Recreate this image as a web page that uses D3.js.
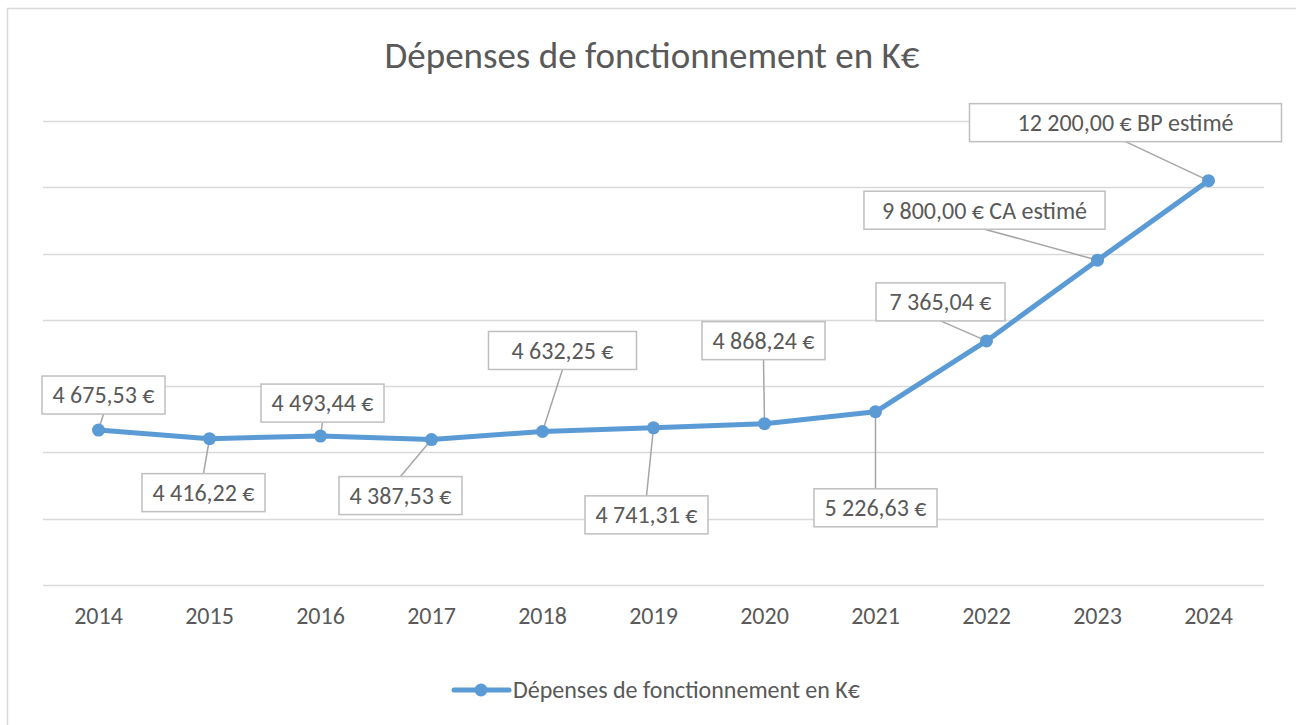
<!DOCTYPE html>
<html>
<head>
<meta charset="utf-8">
<script src="https://cdn.jsdelivr.net/npm/d3@7"></script>
<style>
  body { margin: 0; background: #fff; }
  text { font-family: Calibri, Carlito, "Open Sans", sans-serif; fill: #595959; }
</style>
</head>
<body>
<svg id="chart" width="1296" height="725"></svg>
<script>
// chart data
var years = ["2014","2015","2016","2017","2018","2019","2020","2021","2022","2023","2024"];
var values = [4675.53, 4416.22, 4493.44, 4387.53, 4632.25, 4741.31, 4868.24, 5226.63, 7365.04, 9800, 12200];
var labels = ["4 675,53 €","4 416,22 €","4 493,44 €","4 387,53 €","4 632,25 €","4 741,31 €",
              "4 868,24 €","5 226,63 €","7 365,04 €","9 800,00 € CA estimé","12 200,00 € BP estimé"];
var yTicks = [0, 2000, 4000, 6000, 8000, 10000, 12000, 14000];
var title = "Dépenses de fonctionnement en K€";

// where each label box sits, relative to its point, and its side padding (layout only)
var labelOffsets = [[5,-35],[-6,54],[2,-33],[-31,56],[20,-81],[-7,87],[-1,-83],[0,96],[-46,-39],[-113,-50],[-83,-58]];
var labelPad = [21, 21, 21, 21, 46, 21, 21, 21, 27, 36, 96];

var blue = "#5B9BD5";
var svg = d3.select("#chart");

// outer chart border
svg.append("rect").attr("x", 7.5).attr("y", 8.5).attr("width", 1300).attr("height", 730)
  .attr("fill", "#fff").attr("stroke", "#D9D9D9").attr("stroke-width", 1.5);

svg.append("text").attr("x", 652).attr("y", 68).attr("text-anchor", "middle")
  .style("font-size", "37px").text(title);

var x = d3.scaleBand().domain(years).range([43, 1264]);
var y = d3.scaleLinear().domain([0, 14000]).range([585, 121]);

// gridlines
svg.append("g").selectAll("line").data(yTicks).enter().append("line")
  .attr("x1", 43).attr("x2", 1264)
  .attr("y1", function(d){ return Math.round(y(d)) + 0.5; })
  .attr("y2", function(d){ return Math.round(y(d)) + 0.5; })
  .attr("stroke", "#D9D9D9").attr("stroke-width", 1.5);

// x axis labels
var xAxis = svg.append("g").attr("transform", "translate(0,585)")
  .call(d3.axisBottom(x).tickSize(0).tickPadding(22));
xAxis.select(".domain").remove();
xAxis.selectAll("text").style("font-size", "24px").style("font-family", null).attr("fill", "#595959");

var cx = function(i){ return x(years[i]) + x.bandwidth() / 2; };

svg.append("path").datum(values)
  .attr("fill", "none").attr("stroke", blue).attr("stroke-width", 5).attr("stroke-linejoin", "round")
  .attr("d", d3.line().x(function(d, i){ return cx(i); }).y(function(d){ return y(d); }));

// data labels with leader lines
var lab = svg.append("g");
values.forEach(function(v, i){
  var px = cx(i), py = y(v);
  var bx = px + labelOffsets[i][0], by = py + labelOffsets[i][1];
  var g = lab.append("g");
  var lead = g.append("line").attr("stroke", "#A6A6A6").attr("stroke-width", 1.5);
  var rect = g.append("rect").attr("fill", "#fff").attr("stroke", "#BFBFBF").attr("stroke-width", 1.5);
  var t = g.append("text").attr("x", bx).attr("y", by).attr("dy", "0.35em")
    .attr("text-anchor", "middle").style("font-size", "24px").text(labels[i]);
  var w = t.node().getComputedTextLength() + labelPad[i], h = 38;
  rect.attr("x", bx - w / 2).attr("y", by - h / 2).attr("width", w).attr("height", h);
  var ey = by < py ? by + h / 2 : by - h / 2;
  lead.attr("x1", px).attr("y1", py).attr("x2", bx).attr("y2", ey);
});

// markers
svg.append("g").selectAll("circle").data(values).enter().append("circle")
  .attr("cx", function(d, i){ return cx(i); }).attr("cy", function(d){ return y(d); })
  .attr("r", 6.5).attr("fill", blue);

// legend
var leg = svg.append("g");
leg.append("line").attr("x1", 454).attr("x2", 509).attr("y1", 690).attr("y2", 690)
  .attr("stroke", blue).attr("stroke-width", 5).attr("stroke-linecap", "round");
leg.append("circle").attr("cx", 481).attr("cy", 690).attr("r", 6.5).attr("fill", blue);
leg.append("text").attr("x", 513).attr("y", 690).attr("dy", "0.35em")
  .style("font-size", "24px").text(title);
</script>
</body>
</html>
